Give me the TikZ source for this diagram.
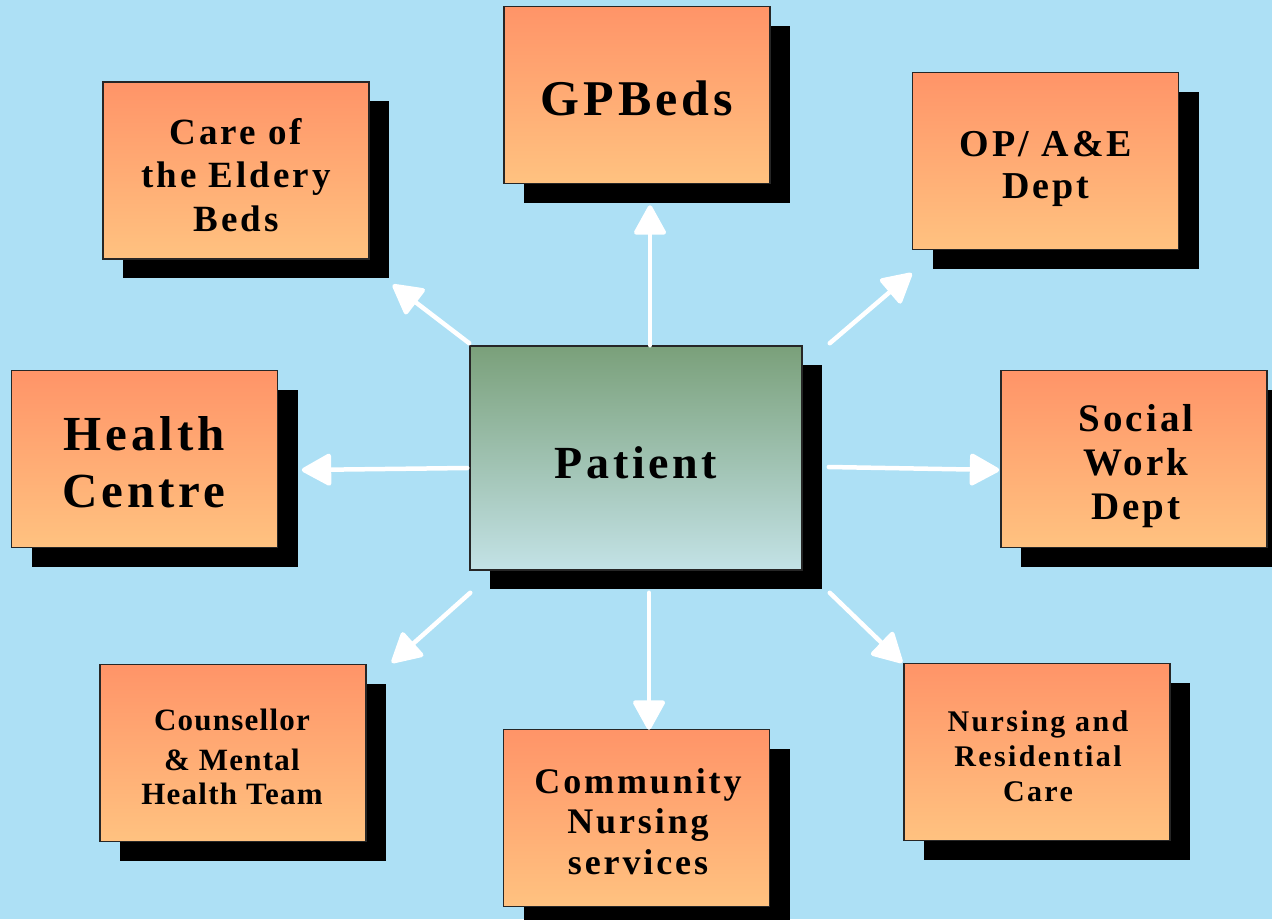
\documentclass[tikz,border=0pt]{standalone}
\usepackage{fontspec}
\newfontfamily\bx[LetterSpace=8]{Liberation Serif}
\newfontfamily\bxn[LetterSpace=4]{Liberation Serif}
\usetikzlibrary{arrows.meta,shadows,calc}
\definecolor{bgblue}{RGB}{173,224,245}
\definecolor{orTop}{RGB}{255,148,104}
\definecolor{orBot}{RGB}{255,194,128}
\definecolor{grTop}{RGB}{122,160,122}
\definecolor{grBot}{RGB}{195,226,230}
\begin{document}
\begin{tikzpicture}[x=1pt,y=-1pt,
  box/.style={draw=black!85, line width=1.5pt, top color=orTop, bottom color=orBot,
    minimum width=266pt, minimum height=177pt, inner sep=0pt,
    general shadow={fill=black, shadow xshift=20pt, shadow yshift=-19pt}},
  patbox/.style={box, top color=grTop, bottom color=grBot,
    minimum width=332pt, minimum height=224pt},
  txt/.style={anchor=base, inner sep=0pt, text=black},
  arr/.style={draw=white, line width=4.5pt, line cap=round,
    -{Triangle[length=32pt,width=34pt,round]}}]
\fill[bgblue] (0,0) rectangle (1272,919);
\useasboundingbox (0,0) rectangle (1272,919);

% boxes
\node[box] (care) at (236,170.5) {};
\node[box] (gp)   at (637,95) {};
\node[box] (op)   at (1045.5,161) {};
\node[box] (hc)   at (144.5,459) {};
\node[patbox] (pat) at (636,458) {};
\node[box] (sw)   at (1134,459) {};
\node[box] (cou)  at (233,753) {};
\node[box] (com)  at (636.5,818) {};
\node[box] (nur)  at (1037,752) {};

% texts
\node[txt, font=\bx\bfseries\fontsize{37}{43.5}\selectfont] (caret) at (236,144)
  {\begin{tabular}[t]{@{}c@{}}Care of\\the Eldery\\Beds\end{tabular}};
\node[txt, font=\bx\bfseries\fontsize{50}{56}\selectfont] (gpt) at (637,115) {GPBeds};
\node[txt, font=\bx\bfseries\fontsize{38}{42}\selectfont] (opt) at (1046,156)
  {\begin{tabular}[t]{@{}c@{}}OP/ A\&E\\Dept\end{tabular}};
\node[txt, font=\bx\bfseries\fontsize{49}{57}\selectfont] (hct) at (144,450)
  {\begin{tabular}[t]{@{}c@{}}Health\\Centre\end{tabular}};
\node[txt, font=\bx\bfseries\fontsize{46}{50}\selectfont] (patt) at (636,478) {Patient};
\node[txt, font=\bx\bfseries\fontsize{39}{44}\selectfont] (swt) at (1136,431)
  {\begin{tabular}[t]{@{}c@{}}Social\\Work\\Dept\end{tabular}};
\node[txt, font=\bxn\bfseries\fontsize{31}{37}\selectfont] (cout) at (232,730)
  {\begin{tabular}[t]{@{}c@{}}Counsellor\\[3pt]\& Mental\\[-3pt]Health Team\end{tabular}};
\node[txt, font=\bx\bfseries\fontsize{36}{40.5}\selectfont] (comt) at (638,793)
  {\begin{tabular}[t]{@{}c@{}}Community\\Nursing\\services\end{tabular}};
\node[txt, font=\bx\bfseries\fontsize{30}{35}\selectfont] (nurt) at (1038,731)
  {\begin{tabular}[t]{@{}c@{}}Nursing and\\Residential\\Care\end{tabular}};

% arrows
\draw[arr] ($(pat.north)+(14,0)$) -- ($(gp.south)+(13,21)$);
\draw[arr] ($(pat.north west)+(0,-2)$) -- ($(care.south east)+(23,25)$);
\draw[arr] ($(pat.north east)+(27,-2)$) -- ($(op.south west)+(0,23)$);
\draw[arr] ($(pat.west)+(-2,10)$) -- ($(hc.east)+(23.5,11)$);
\draw[arr] ($(pat.east)+(26,9)$) -- ($(sw.west)+(-1,11)$);
\draw[arr] ($(pat.south west)+(1,22)$) -- ($(cou.north east)+(25,-1)$);
\draw[arr] ($(pat.south)+(13,22)$) -- ($(com.north)+(12.5,1)$);
\draw[arr] ($(pat.south east)+(27,22)$) -- ($(nur.north west)+(-1,0)$);
\end{tikzpicture}
\end{document}
